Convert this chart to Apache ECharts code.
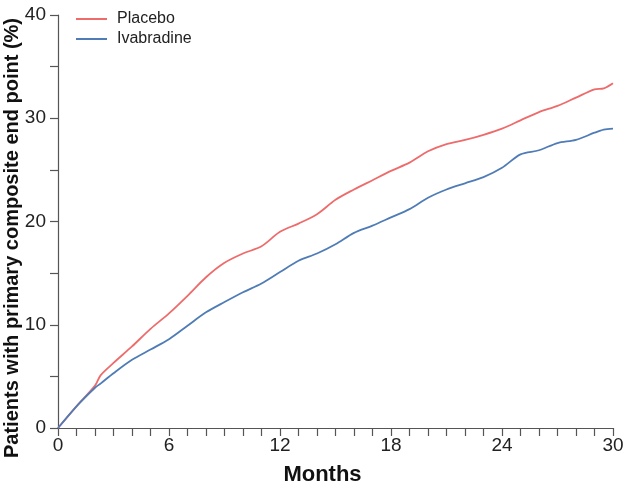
<!DOCTYPE html>
<html>
<head>
<meta charset="utf-8">
<script src="https://cdn.jsdelivr.net/npm/echarts@6/dist/echarts.min.js"></script>
<style>html,body{margin:0;padding:0;background:#fff}#c{width:627px;height:488px}</style>
</head>
<body>
<div id="c"></div>
<script>
var months = [0,1,2,2.3,3,4,5,6,7,8,9,10,11,12,13,14,15,16,17,18,19,20,21,22,23,24,25,26,27,28,29,29.5,30];
var placebo = [0,2.1,4.1,5.1,6.3,7.9,9.6,11.1,12.8,14.6,16.0,16.9,17.6,19.0,19.8,20.7,22.1,23.1,24.0,24.9,25.7,26.8,27.5,27.9,28.4,29.0,29.8,30.6,31.2,32.0,32.8,32.9,33.4];
var ivabradine = [0,2.1,3.9,4.3,5.3,6.6,7.6,8.6,9.9,11.2,12.2,13.15,14.0,15.1,16.2,16.9,17.8,18.9,19.6,20.4,21.2,22.3,23.1,23.7,24.3,25.2,26.5,26.9,27.6,27.9,28.6,28.9,29.0];
var xTickLabels = [0,6,12,18,24,30];
var yTickLabels = [0,10,20,30,40];

function pairs(xs, ys){ return xs.map(function(x,i){ return [x, ys[i]]; }); }

var chart = echarts.init(document.getElementById('c'), null, {renderer:'canvas'});
var axisColor = '#555';
var font = 'Liberation Sans, Arial, sans-serif';
chart.setOption({
  animation:false,
  grid:{left:58, right:14, top:15, bottom:60, containLabel:false, outerBoundsMode:'none'},
  legend:{
    orient:'vertical', left:71, top:6, itemGap:4, itemWidth:31, itemHeight:2, icon:'rect',
    textStyle:{fontFamily:font, fontSize:16, color:'#222', padding:[0,0,0,5]},
    data:['Placebo','Ivabradine']
  },
  xAxis:{
    type:'value', min:0, max:30, interval:1,
    name:'Months', nameLocation:'middle', nameGap:36, nameMoveOverlap:false,
    nameTextStyle:{fontFamily:font, fontSize:22, fontWeight:'bold', color:'#111', padding:[0,26,0,0]},
    axisLine:{show:true, lineStyle:{color:axisColor, width:1.2}},
    axisTick:{show:true, length:8, lineStyle:{color:axisColor, width:1.2}},
    splitLine:{show:false},
    axisLabel:{fontFamily:font, fontSize:19, color:'#222', margin:8,
      formatter:function(v){ return xTickLabels.indexOf(v) >= 0 ? String(v) : ''; }}
  },
  yAxis:{
    type:'value', min:0, max:40, interval:5,
    name:'Patients with primary composite end point (%)', nameLocation:'middle', nameGap:36, nameMoveOverlap:false,
    nameTextStyle:{fontFamily:font, fontSize:20, fontWeight:'bold', color:'#111', padding:[0,33,0,0]},
    axisLine:{show:true, lineStyle:{color:axisColor, width:1.2}},
    axisTick:{show:true, length:8, lineStyle:{color:axisColor, width:1.2}},
    splitLine:{show:false},
    axisLabel:{fontFamily:font, fontSize:19, color:'#222', margin:12,
      formatter:function(v){ return yTickLabels.indexOf(v) >= 0 ? String(v) : ''; }}
  },
  series:[
    {name:'Placebo', type:'line', data:pairs(months, placebo), showSymbol:false, symbol:'none',
     smooth:0.3, lineStyle:{color:'#ee6b6b', width:1.8}, itemStyle:{color:'#ee6b6b'}},
    {name:'Ivabradine', type:'line', data:pairs(months, ivabradine), showSymbol:false, symbol:'none',
     smooth:0.3, lineStyle:{color:'#4f7cb6', width:1.8}, itemStyle:{color:'#4f7cb6'}}
  ]
});
</script>
</body>
</html>
